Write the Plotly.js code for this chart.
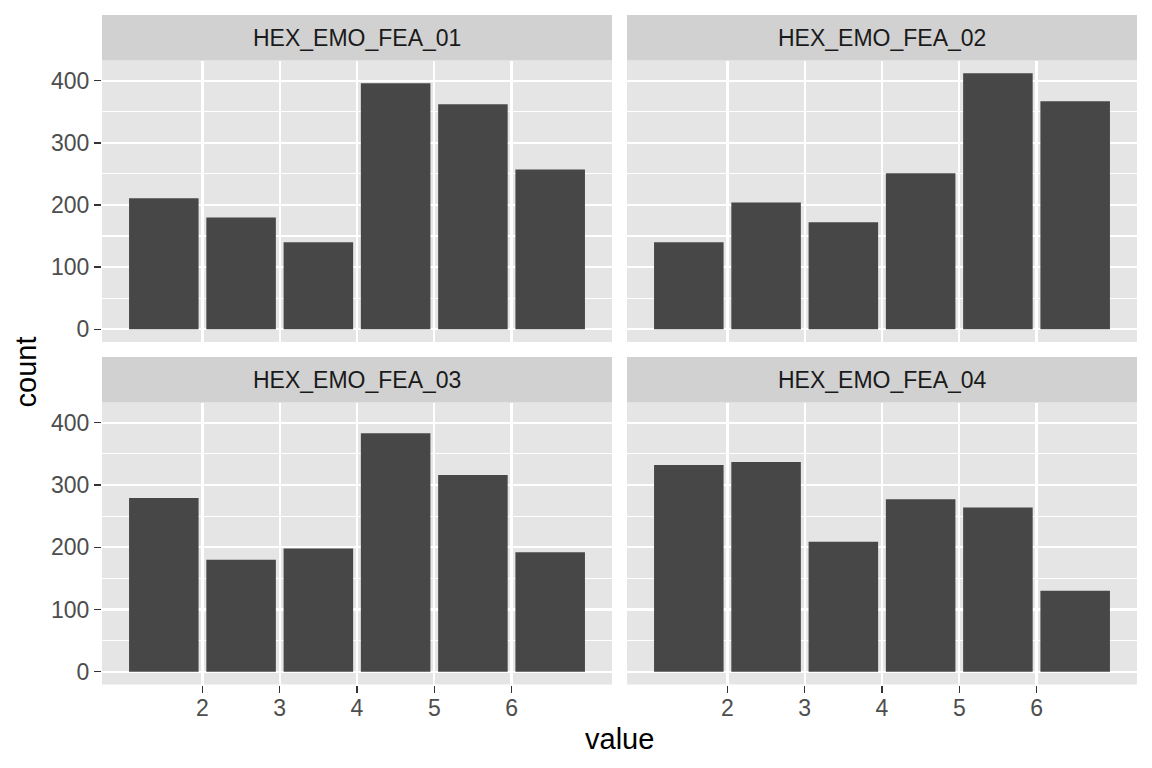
<!DOCTYPE html>
<html>
<head>
<meta charset="utf-8">
<script src="https://cdn.plot.ly/plotly-3.0.1.min.js"></script>
<style>html,body{margin:0;padding:0;background:#fff;}#chart{width:1152px;height:768px;}</style>
</head>
<body>
<div id="chart"></div>
<script>
// Data
const binCenters = [1.5, 2.5, 3.5, 4.5, 5.5, 6.5];
const panelNames = ["HEX_EMO_FEA_01", "HEX_EMO_FEA_02", "HEX_EMO_FEA_03", "HEX_EMO_FEA_04"];
const fea01 = [211, 180, 140, 396, 362, 257];
const fea02 = [140, 204, 172, 251, 412, 367];
const fea03 = [279, 180, 198, 383, 316, 192];
const fea04 = [332, 337, 209, 277, 264, 130];
const xTicks = [2, 3, 4, 5, 6];
const yTicks = [0, 100, 200, 300, 400];
const xTitle = "value";
const yTitle = "count";

const W = 1152, H = 768;
const FONT = "Liberation Sans, Arial, Helvetica, sans-serif";
const series = [fea01, fea02, fea03, fea04];

// panel pixel geometry
const cols = [[102, 612], [627, 1137]];
const rows = [{strip: [15, 60.5], panel: [60.5, 342]}, {strip: [357, 402.5], panel: [402.5, 684.5]}];
const px = v => v / W;
const py = v => 1 - v / H;

const ymax = Math.max(...series.flat());
const yRange = [-0.05 * ymax, 1.05 * ymax];

const traces = [];
const layout = {
  width: W, height: H,
  margin: {l: 0, r: 0, t: 0, b: 0},
  paper_bgcolor: "#FFFFFF",
  plot_bgcolor: "#E5E5E5",
  showlegend: false,
  font: {family: FONT},
  shapes: [],
  annotations: []
};

series.forEach((vals, i) => {
  const r = Math.floor(i / 2), c = i % 2;
  const n = i + 1;
  const xa = n === 1 ? "x" : "x" + n;
  const ya = n === 1 ? "y" : "y" + n;
  traces.push({
    type: "bar", x: binCenters, y: vals, width: 0.9,
    xaxis: xa, yaxis: ya,
    marker: {color: "#474747", line: {width: 0}},
    hoverinfo: "x+y"
  });
  const xk = n === 1 ? "xaxis" : "xaxis" + n;
  const yk = n === 1 ? "yaxis" : "yaxis" + n;
  layout[xk] = {
    domain: [px(cols[c][0]), px(cols[c][1])],
    anchor: ya,
    range: [0.7, 7.3],
    tickvals: xTicks,
    ticktext: xTicks.map(String),
    showgrid: true, gridcolor: "#FFFFFF", gridwidth: 2.2,
    zeroline: false, showline: false,
    ticks: r === 1 ? "outside" : "",
    ticklen: 7, tickwidth: 1.4, tickcolor: "#333333",
    showticklabels: r === 1,
    ticklabelstandoff: -4,
    tickfont: {family: FONT, size: 23, color: "#4D4D4D"},
    fixedrange: true
  };
  layout[yk] = {
    domain: [py(rows[r].panel[1]), py(rows[r].panel[0])],
    anchor: xa,
    range: yRange,
    tickvals: yTicks,
    ticktext: yTicks.map(String),
    showgrid: true, gridcolor: "#FFFFFF", gridwidth: 2.2,
    minor: {dtick: 50, tick0: 0, showgrid: true, gridcolor: "#FFFFFF", gridwidth: 1.1, ticks: ""},
    zeroline: false, showline: false,
    ticks: c === 0 ? "outside" : "",
    ticklen: 7, tickwidth: 1.4, tickcolor: "#333333",
    showticklabels: c === 0,
    tickfont: {family: FONT, size: 23, color: "#4D4D4D"},
    fixedrange: true
  };
  // strip
  layout.shapes.push({
    type: "rect", xref: "paper", yref: "paper",
    x0: px(cols[c][0]), x1: px(cols[c][1]),
    y0: py(rows[r].strip[1]), y1: py(rows[r].strip[0]),
    fillcolor: "#D1D1D1", line: {width: 0}, layer: "above"
  });
  layout.annotations.push({
    xref: "paper", yref: "paper",
    x: px((cols[c][0] + cols[c][1]) / 2),
    y: py((rows[r].strip[0] + rows[r].strip[1]) / 2),
    text: panelNames[i], showarrow: false,
    xanchor: "center", yanchor: "middle",
    font: {family: FONT, size: 23, color: "#1A1A1A"}
  });
});

// axis titles
layout.annotations.push({
  xref: "paper", yref: "paper",
  x: px((cols[0][0] + cols[1][1]) / 2), y: py(739),
  text: xTitle, showarrow: false, xanchor: "center", yanchor: "middle",
  font: {family: FONT, size: 29, color: "#000000"}
});
layout.annotations.push({
  xref: "paper", yref: "paper",
  x: px(25), y: py((rows[0].panel[0] + rows[1].panel[1]) / 2),
  text: yTitle, showarrow: false, xanchor: "center", yanchor: "middle",
  textangle: -90,
  font: {family: FONT, size: 29, color: "#000000"}
});

Plotly.newPlot("chart", traces, layout, {displayModeBar: false, staticPlot: true});
</script>
</body>
</html>
